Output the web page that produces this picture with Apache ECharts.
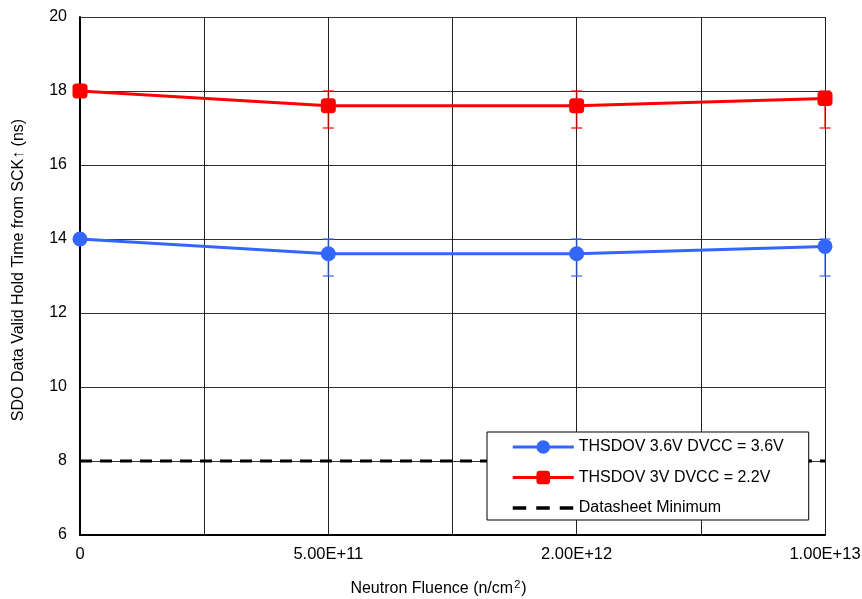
<!DOCTYPE html>
<html>
<head>
<meta charset="utf-8">
<script src="https://cdn.jsdelivr.net/npm/echarts@6/dist/echarts.min.js"></script>
<style>html,body{margin:0;padding:0;background:#fff}#c{width:862px;height:599px}</style>
</head>
<body>
<div id="c"></div>
<script>
// Data
var categories = ['0', '5.00E+11', '2.00E+12', '1.00E+13'];
var blueName = 'THSDOV 3.6V DVCC = 3.6V';
var redName = 'THSDOV 3V DVCC = 2.2V';
var minName = 'Datasheet Minimum';
var blueValues = [14, 13.6, 13.6, 13.8];
var blueLow = [14, 13, 13, 13];
var blueHigh = [14, 14, 14, 14];
var redValues = [18, 17.6, 17.6, 17.8];
var redLow = [18, 17, 17, 17];
var redHigh = [18, 18, 18, 18];
var datasheetMin = 8;
var yTicks = [6, 8, 10, 12, 14, 16, 18, 20];

var FONT = '"Liberation Sans", Arial, sans-serif';
var BLUE = '#3366ff', RED = '#ff0000';

function pts(vals) { return vals.map(function (v, i) { return [i, v]; }); }
function errData(lo, hi) {
  var out = [];
  for (var i = 0; i < lo.length; i++) if (hi[i] !== lo[i]) out.push([i, lo[i], hi[i]]);
  return out;
}
function errSeries(lo, hi, color) {
  return {
    type: 'custom', silent: true, z: 1,
    data: errData(lo, hi),
    encode: { x: 0, y: [1, 2] },
    renderItem: function (params, api) {
      var x = api.value(0);
      var a = api.coord([x, api.value(1)]);
      var b = api.coord([x, api.value(2)]);
      var hw = 5.5;
      var st = { stroke: color, lineWidth: 2 };
      return { type: 'group', children: [
        { type: 'line', shape: { x1: a[0], y1: a[1], x2: b[0], y2: b[1] }, style: st },
        { type: 'line', shape: { x1: a[0] - hw, y1: a[1], x2: a[0] + hw, y2: a[1] }, style: st },
        { type: 'line', shape: { x1: b[0] - hw, y1: b[1], x2: b[0] + hw, y2: b[1] }, style: st }
      ]};
    }
  };
}

var chart = echarts.init(document.getElementById('c'));
chart.setOption({
  animation: false,
  backgroundColor: '#fff',
  textStyle: { fontFamily: FONT },
  grid: { left: 80, right: 37, top: 17, bottom: 64, containLabel: false, outerBoundsMode: 'none' },
  legend: {
    orient: 'vertical', left: 487, top: 432,
    data: [blueName, redName, { name: minName, itemStyle: { opacity: 0 }, lineStyle: { type: [13.5, 10], width: 3.5 } }],
    itemWidth: 61, itemHeight: 17, itemGap: 14.5,
    padding: [7, 25, 4, 24],
    borderColor: '#000', borderWidth: 1, backgroundColor: '#fff',
    lineStyle: { width: 3 },
    textStyle: { fontFamily: FONT, fontSize: 16, color: '#000' }
  },
  xAxis: {
    type: 'value', min: 0, max: 3, interval: 0.5,
    name: 'Neutron Fluence (n/cm{sup|2})', nameLocation: 'middle', nameGap: 44,
    nameTextStyle: {
      fontFamily: FONT, fontSize: 16, color: '#000', padding: [0, 28, 0, 0],
      rich: { sup: { fontFamily: FONT, fontSize: 11, color: '#000', padding: [0, 1, 8, 1] } }
    },
    axisLine: { onZero: false, lineStyle: { color: '#000', width: 2 } },
    axisTick: { show: false },
    splitLine: { show: true, lineStyle: { color: '#222', width: 1 } },
    axisLabel: {
      fontFamily: FONT, fontSize: 16.5, color: '#000', margin: 11,
      formatter: function (v) { return Number.isInteger(v) ? categories[v] : ''; }
    }
  },
  yAxis: {
    type: 'value', min: yTicks[0], max: yTicks[yTicks.length - 1], interval: 2,
    name: 'SDO Data Valid Hold Time from SCK\u2191 (ns)', nameLocation: 'middle', nameGap: 53,
    nameTextStyle: { fontFamily: FONT, fontSize: 16, color: '#000', padding: [0, 0, 0, 12] },
    axisLine: { show: true, lineStyle: { color: '#000', width: 2 } },
    axisTick: { show: false },
    splitLine: { show: true, lineStyle: { color: '#333', width: 1 } },
    axisLabel: { fontFamily: FONT, fontSize: 16, color: '#000', margin: 13 }
  },
  series: [
    errSeries(blueLow, blueHigh, 'rgba(51,102,255,0.6)'),
    errSeries(redLow, redHigh, 'rgba(255,0,0,0.6)'),
    {
      name: blueName, type: 'line', z: 3, data: pts(blueValues),
      symbol: 'circle', symbolSize: 15,
      itemStyle: { color: BLUE }, lineStyle: { color: BLUE, width: 3 }
    },
    {
      name: redName, type: 'line', z: 3, data: pts(redValues),
      symbol: 'roundRect', symbolSize: 15,
      itemStyle: { color: RED }, lineStyle: { color: RED, width: 3 }
    },
    {
      name: minName, type: 'line', z: 2, data: [[0, datasheetMin], [3, datasheetMin]],
      symbol: 'none', itemStyle: { color: '#000' },
      lineStyle: { color: '#000', width: 3, type: [12, 8] }
    }
  ]
});
</script>
</body>
</html>
